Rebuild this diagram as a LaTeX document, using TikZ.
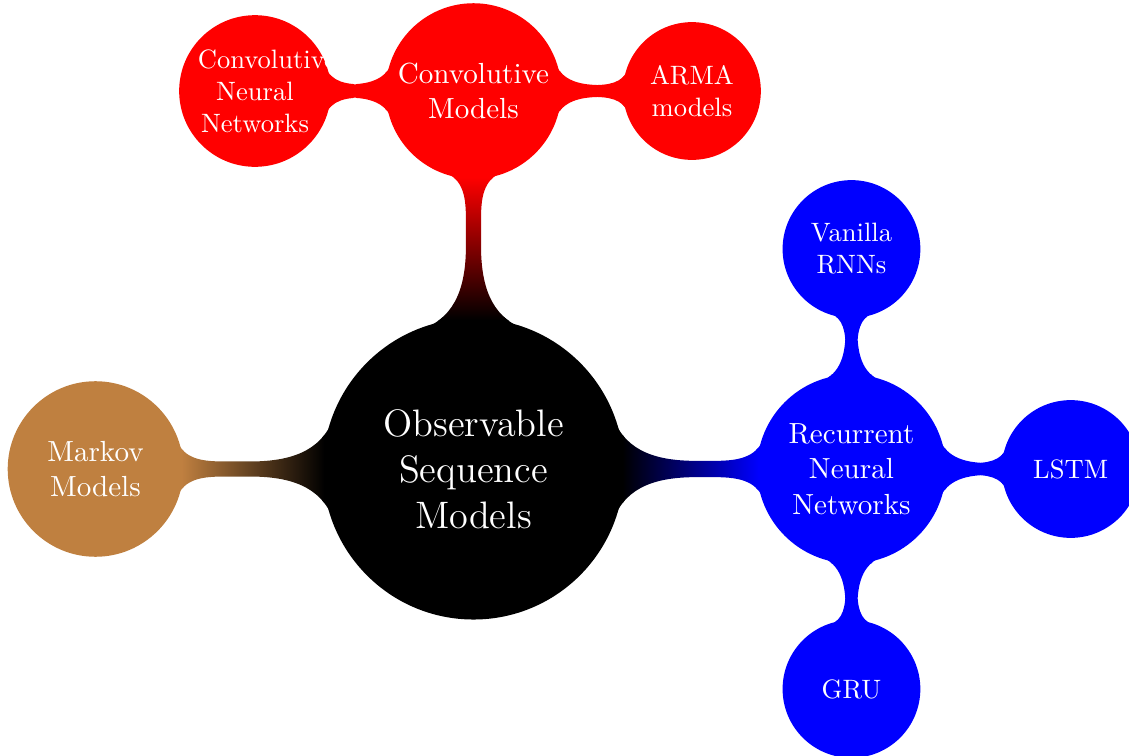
\documentclass[tikz,border=0pt]{standalone}
\usetikzlibrary{mindmap}
\begin{document}
\begin{tikzpicture}[mindmap,
  rootc/.style={concept, concept color=black, text=white, minimum size=3.94cm, text width=3.5cm,
    font=\fontsize{14.4}{17.3}\selectfont},
  lvla/.style={concept, text=white, minimum size=2.28cm, text width=2.03cm,
    font=\fontsize{10.95}{13.4}\selectfont},
  lvlb/.style={concept, text=white, minimum size=1.78cm, text width=1.51cm,
    font=\fontsize{10}{12}\selectfont}]
\useasboundingbox (-6.263,-3.796) rectangle (8.671,6.204);
% nodes
\node[rootc] (root) at (0,0) {Observable Sequence Models};
\node[lvla, concept color=brown] (markov) at (-5,0) {Markov Models};
\node[lvla, concept color=red] (conv) at (0,5) {Convolutive Models};
\node[lvla, concept color=blue] (rnn) at (5,0) {Recurrent Neural Networks};
\node[lvlb, concept color=red] (cnn) at (-2.89,5) {Convolutive Neural Networks};
\node[lvlb, concept color=red] (arma) at (2.89,5) {ARMA models};
\node[lvlb, concept color=blue] (vanilla) at (5,2.91) {Vanilla RNNs};
\node[lvlb, concept color=blue] (lstm) at (7.9,0) {LSTM};
\node[lvlb, concept color=blue] (gru) at (5,-2.91) {GRU};
% connections
\path (root) to[circle connection bar switch color=from (black) to (brown)] (markov);
\path (root) to[circle connection bar switch color=from (black) to (red)] (conv);
\path (root) to[circle connection bar switch color=from (black) to (blue)] (rnn);
\path (conv) to[circle connection bar switch color=from (red) to (red)] (cnn);
\path (conv) to[circle connection bar switch color=from (red) to (red)] (arma);
\path (rnn) to[circle connection bar switch color=from (blue) to (blue)] (vanilla);
\path (rnn) to[circle connection bar switch color=from (blue) to (blue)] (lstm);
\path (rnn) to[circle connection bar switch color=from (blue) to (blue)] (gru);
\end{tikzpicture}
\end{document}
